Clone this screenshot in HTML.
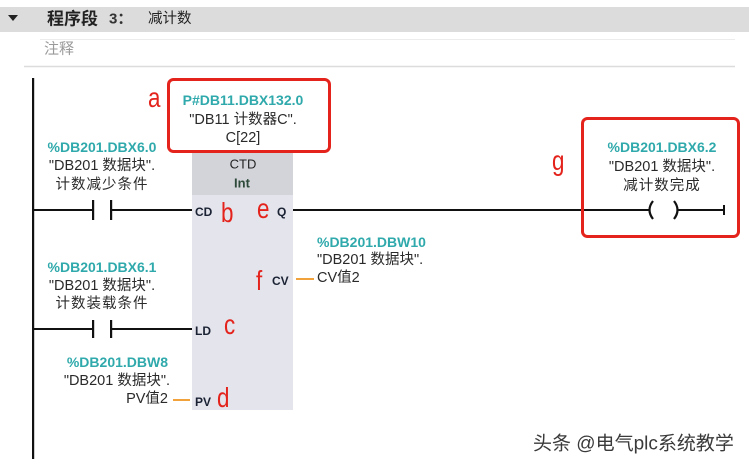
<!DOCTYPE html>
<html><head><meta charset="utf-8">
<style>
html,body{margin:0;padding:0;background:#fff;width:749px;height:467px;overflow:hidden}
svg{display:block}
text{font-family:"Liberation Sans","Noto Sans CJK SC",sans-serif}
.t{fill:#2fa9ab;font-weight:bold;font-size:14px}
.k{fill:#2a2a2a;font-size:14.5px}
.p{fill:#1a2233;font-size:12px;font-weight:bold}
.r{fill:#e3231c;font-size:28px}
</style></head>
<body>
<svg width="749" height="467" viewBox="0 0 749 467">
  <!-- header -->
  <rect x="0" y="7" width="749" height="25" fill="#dcdcdc"/>
  <polygon points="8,15 18,15 13,21" fill="#222"/>
  <text x="47" y="19" dominant-baseline="central" font-size="17" font-weight="bold" fill="#222">程序段</text>
  <text x="109" y="19" dominant-baseline="central" font-size="15" font-weight="bold" fill="#333">3：</text>
  <text x="148" y="19" dominant-baseline="central" font-size="14.5" fill="#222">减计数</text>
  <!-- comment -->
  <line x1="40" y1="39.5" x2="735" y2="39.5" stroke="#ececec" stroke-width="1"/>
  <text x="44" y="49" dominant-baseline="central" font-size="15" fill="#9a9a9a">注释</text>
  <line x1="24" y1="66.5" x2="735" y2="66.5" stroke="#dcdcdc" stroke-width="1.5"/>

  <!-- power rail -->
  <rect x="32" y="78" width="2.2" height="381" fill="#111"/>

  <!-- block -->
  <rect x="192" y="151" width="101" height="44" fill="#d3d4da"/>
  <rect x="192" y="195" width="101" height="215" fill="#e4e4ec"/>
  <text x="243" y="164" text-anchor="middle" dominant-baseline="central" font-size="13" fill="#222">CTD</text>
  <text x="242" y="183" text-anchor="middle" dominant-baseline="central" font-size="13" font-weight="bold" fill="#2e4a3a">Int</text>

  <!-- red box a -->
  <rect x="168.5" y="79.5" width="161" height="72" rx="5" fill="#fff" stroke="#e3231c" stroke-width="3"/>
  <text class="t" x="243" y="100" text-anchor="middle" dominant-baseline="central">P#DB11.DBX132.0</text>
  <text class="k" x="243" y="120" text-anchor="middle" dominant-baseline="central">"DB11 计数器C".</text>
  <text class="k" x="243" y="138" text-anchor="middle" dominant-baseline="central">C[22]</text>

  <!-- rung 1 -->
  <line x1="33" y1="210" x2="93" y2="210" stroke="#111" stroke-width="2"/>
  <rect x="92" y="200" width="2.2" height="20" fill="#111"/>
  <rect x="110" y="200" width="2.2" height="20" fill="#111"/>
  <line x1="112" y1="210" x2="192" y2="210" stroke="#111" stroke-width="2"/>
  <text class="t" x="102" y="147" text-anchor="middle" dominant-baseline="central">%DB201.DBX6.0</text>
  <text class="k" x="102" y="166" text-anchor="middle" dominant-baseline="central">"DB201 数据块".</text>
  <text class="k" x="102" y="185" text-anchor="middle" dominant-baseline="central" letter-spacing="1">计数减少条件</text>
  <text class="p" x="195" y="212" dominant-baseline="central">CD</text>
  <text class="p" x="277" y="212" dominant-baseline="central">Q</text>
  <line x1="293" y1="210" x2="650" y2="210" stroke="#111" stroke-width="2"/>
  <path d="M653 201 Q646 210 653 219" fill="none" stroke="#111" stroke-width="2.2"/>
  <path d="M674 201 Q681 210 674 219" fill="none" stroke="#111" stroke-width="2.2"/>
  <line x1="678" y1="210" x2="724" y2="210" stroke="#111" stroke-width="2"/>
  <line x1="724" y1="205" x2="724" y2="215" stroke="#111" stroke-width="2"/>

  <!-- red box g -->
  <rect x="582.5" y="118.5" width="156" height="118" rx="5" fill="none" stroke="#e3231c" stroke-width="3"/>
  <text class="t" x="662" y="147" text-anchor="middle" dominant-baseline="central">%DB201.DBX6.2</text>
  <text class="k" x="662" y="167" text-anchor="middle" dominant-baseline="central">"DB201 数据块".</text>
  <text class="k" x="662" y="186" text-anchor="middle" dominant-baseline="central" letter-spacing="1">减计数完成</text>

  <!-- CV -->
  <text class="t" x="317" y="242" dominant-baseline="central">%DB201.DBW10</text>
  <text class="k" x="317" y="260" dominant-baseline="central">"DB201 数据块".</text>
  <text class="k" x="317" y="278" dominant-baseline="central">CV值2</text>
  <line x1="296" y1="279" x2="314" y2="279" stroke="#f2a23a" stroke-width="2"/>
  <text class="p" x="272" y="281" dominant-baseline="central">CV</text>

  <!-- rung 2 -->
  <text class="t" x="102" y="267" text-anchor="middle" dominant-baseline="central">%DB201.DBX6.1</text>
  <text class="k" x="102" y="286" text-anchor="middle" dominant-baseline="central">"DB201 数据块".</text>
  <text class="k" x="102" y="304" text-anchor="middle" dominant-baseline="central" letter-spacing="1">计数装载条件</text>
  <line x1="33" y1="329" x2="93" y2="329" stroke="#111" stroke-width="2"/>
  <rect x="92" y="320" width="2.2" height="18" fill="#111"/>
  <rect x="110" y="320" width="2.2" height="18" fill="#111"/>
  <line x1="112" y1="329" x2="192" y2="329" stroke="#111" stroke-width="2"/>
  <text class="p" x="195" y="331" dominant-baseline="central">LD</text>

  <!-- PV -->
  <text class="t" x="168" y="362" text-anchor="end" dominant-baseline="central">%DB201.DBW8</text>
  <text class="k" x="170" y="381" text-anchor="end" dominant-baseline="central">"DB201 数据块".</text>
  <text class="k" x="168" y="399" text-anchor="end" dominant-baseline="central">PV值2</text>
  <line x1="173" y1="400" x2="190" y2="400" stroke="#f2a23a" stroke-width="2"/>
  <text class="p" x="195" y="402" dominant-baseline="central">PV</text>

  <!-- red annotation letters -->
  <text class="r" transform="translate(148,107) scale(0.8,1)">a</text>
  <text class="r" transform="translate(221,222) scale(0.8,1)">b</text>
  <text class="r" transform="translate(257,218) scale(0.8,1)">e</text>
  <text class="r" transform="translate(224,334) scale(0.8,1)">c</text>
  <text class="r" transform="translate(217,407) scale(0.8,1)">d</text>
  <text class="r" transform="translate(256,290) scale(0.8,1)">f</text>
  <text class="r" transform="translate(552,170) scale(0.8,1)">g</text>

  <!-- watermark -->
  <text x="533" y="444" dominant-baseline="central" font-size="19" fill="#3a3a3a" stroke="#fff" stroke-width="2" paint-order="stroke">头条 @电气plc系统教学</text>
</svg>
</body></html>
